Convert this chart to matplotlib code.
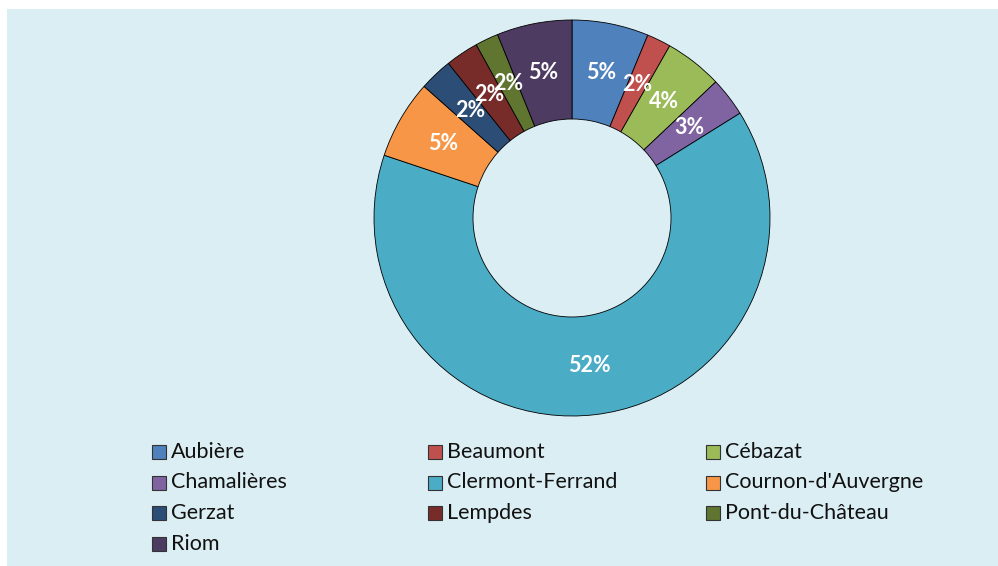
#!/usr/bin/env python3

import numpy as np
import matplotlib.pyplot as plt
from matplotlib.patches import Rectangle

# communes and their share (%) of the overall total
communes = ["Aubière", "Beaumont", "Cébazat", "Chamalières", "Clermont-Ferrand",
            "Cournon-d'Auvergne", "Gerzat", "Lempdes", "Pont-du-Château", "Riom"]
shares = [5.1, 1.6, 3.85, 2.6, 52.2, 5.25, 2.2, 2.2, 1.55, 5.0]
colors = ["#4F81BD", "#C0504D", "#9BBB59", "#8064A2", "#4BACC6",
          "#F79646", "#2C4D75", "#772C2A", "#5F7530", "#4D3B62"]

W, H = 998, 566
BG = "#DBEEF4"
FONT = "Lato"

fig = plt.figure(figsize=(W / 100, H / 100), dpi=100)
fig.patch.set_facecolor("white")
fig.add_artist(Rectangle((7 / W, 0), 1 - 7 / W, 1 - 9 / H, transform=fig.transFigure,
                         facecolor=BG, edgecolor="none", zorder=0))

# donut: centre (572, 218) px, radius 198 px
cx, cy, R = 572, 218, 198
ax = fig.add_axes([(cx - R) / W, (H - cy - R) / H, 2 * R / W, 2 * R / H])
ax.set_facecolor("none")

wedges, _ = ax.pie(shares, colors=colors, startangle=90, counterclock=False,
                   radius=1.0, wedgeprops=dict(width=0.5, edgecolor="black", linewidth=0.6))
ax.set_xlim(-1, 1)
ax.set_ylim(-1, 1)
ax.set_aspect("equal")
ax.axis("off")

total = sum(shares)
start = 90.0
for v in shares:
    span = v / total * 360
    mid = np.deg2rad(start - span / 2)
    ax.text(0.75 * np.cos(mid), 0.75 * np.sin(mid), f"{v:.0f}%", ha="center", va="center",
            color="white", fontsize=15.5, fontweight="bold", family=FONT)
    start -= span

# legend, three columns
col_x = [152, 428, 706]
row_y = [452, 482.5, 513, 543.5]
sq = 14
for i, (name, c) in enumerate(zip(communes, colors)):
    x = col_x[i % 3]
    y = row_y[i // 3]
    fig.add_artist(Rectangle((x / W, (H - y - sq / 2) / H), sq / W, sq / H,
                             transform=fig.transFigure, facecolor=c,
                             edgecolor="#333333", linewidth=0.8))
    fig.text((x + sq + 5) / W, (H - y) / H, name, ha="left", va="center",
             fontsize=15.5, family=FONT, color="#111111")

fig.savefig("out.png", dpi=100)
